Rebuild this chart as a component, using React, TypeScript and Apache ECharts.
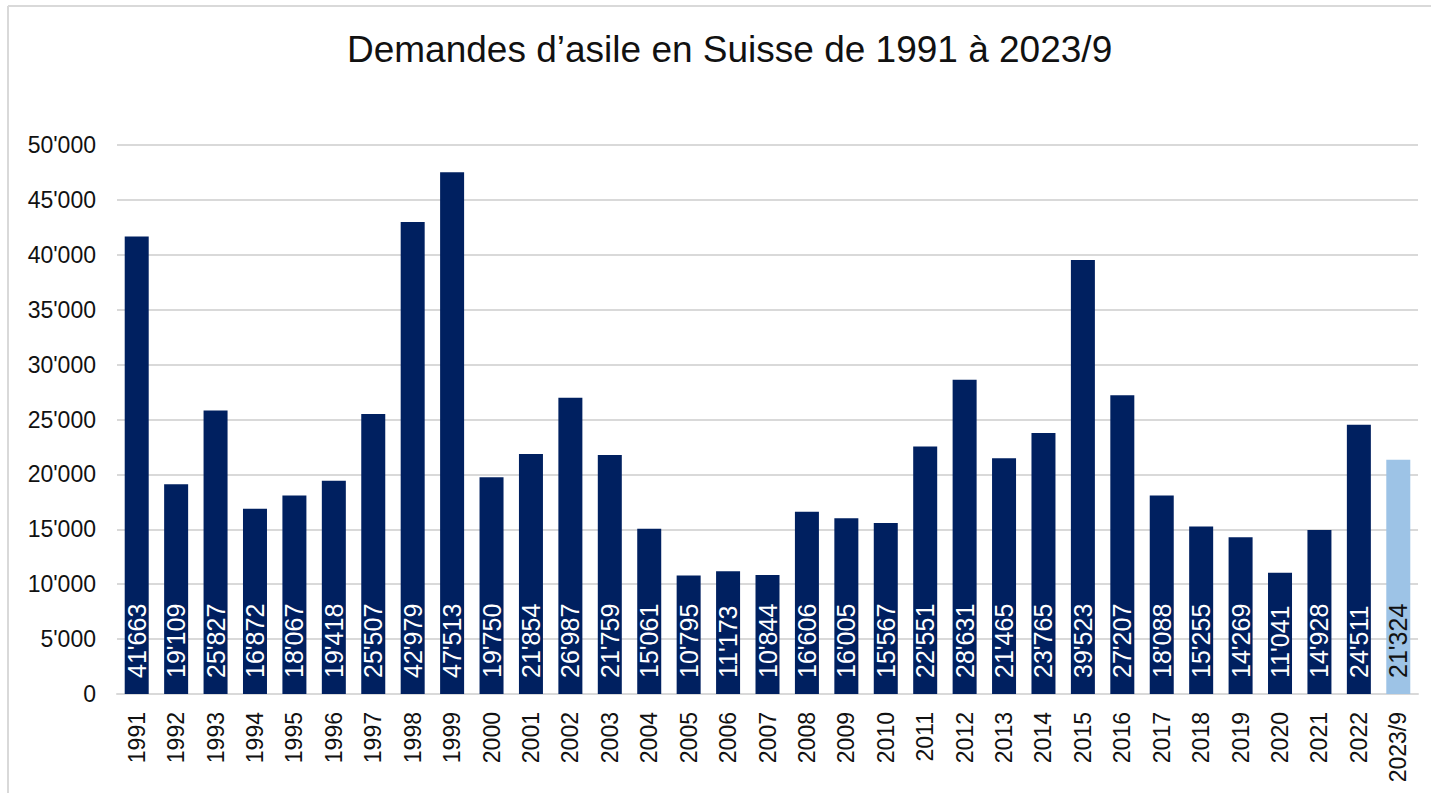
import React, { useEffect, useRef } from "react";
import * as echarts from "echarts";

const categories = ["1991","1992","1993","1994","1995","1996","1997","1998","1999","2000","2001","2002","2003","2004","2005","2006","2007","2008","2009","2010","2011","2012","2013","2014","2015","2016","2017","2018","2019","2020","2021","2022","2023/9"];
const values = [41663,19109,25827,16872,18067,19418,25507,42979,47513,19750,21854,26987,21759,15061,10795,11173,10844,16606,16005,15567,22551,28631,21465,23765,39523,27207,18088,15255,14269,11041,14928,24511,21324];
const yTicks = { min: 0, max: 50000, interval: 5000 };
const titleText = "Demandes d’asile en Suisse de 1991 à 2023/9";

const NAVY = "#002060";
const LIGHT = "#9DC3E6";
const fmt = (v: number) => String(v).replace(/\B(?=(\d{3})+(?!\d))/g, "'");

export default function App() {
  const ref = useRef<HTMLDivElement>(null);
  useEffect(() => {
    if (!ref.current) return;
    const chart = echarts.init(ref.current, undefined, { renderer: "svg" });
    const last = values.length - 1;
    chart.setOption({
      animation: false,
      backgroundColor: "#ffffff",
      textStyle: { fontFamily: "Liberation Sans, Arial, sans-serif" },
      title: {
        text: titleText,
        left: 342,
        top: 26,
        textStyle: { fontSize: 37, fontWeight: "normal", color: "#111", fontFamily: "Liberation Sans, Arial, sans-serif" },
      },
      graphic: [
        { type: "line", shape: { x1: 8, y1: 6, x2: 1431, y2: 6 }, style: { stroke: "#d9d9d9", lineWidth: 2 } },
        { type: "line", shape: { x1: 8, y1: 6, x2: 8, y2: 793 }, style: { stroke: "#d9d9d9", lineWidth: 2 } },
      ],
      grid: { left: 117, right: 13, top: 145, bottom: 99, containLabel: false },
      xAxis: {
        type: "category",
        data: categories,
        axisLine: { show: true, lineStyle: { color: "#d9d9d9", width: 2 } },
        axisTick: { show: false },
        axisLabel: { rotate: 90, interval: 0, margin: 18, fontSize: 23, color: "#111", fontFamily: "Liberation Sans, Arial, sans-serif" },
      },
      yAxis: {
        type: "value",
        min: yTicks.min,
        max: yTicks.max,
        interval: yTicks.interval,
        axisLine: { show: false },
        axisTick: { show: false },
        splitLine: { lineStyle: { color: "#d9d9d9", width: 2 } },
        axisLabel: { formatter: (v: number) => fmt(v), margin: 21, fontSize: 23, color: "#111", fontFamily: "Liberation Sans, Arial, sans-serif" },
      },
      series: [
        {
          type: "bar",
          barWidth: 24,
          data: values.map((v, i) => ({
            value: v,
            itemStyle: { color: i === last ? LIGHT : NAVY },
            label: { color: i === last ? "#111" : "#ffffff" },
          })),
          label: {
            show: true,
            position: "insideBottom",
            rotate: 90,
            align: "left",
            verticalAlign: "middle",
            distance: 16,
            fontSize: 25,
            fontFamily: "Liberation Sans, Arial, sans-serif",
            formatter: (p: any) => fmt(p.value),
          },
        },
      ],
    });
    return () => chart.dispose();
  }, []);
  return <div ref={ref} style={{ position: "fixed", left: 0, top: 0, width: 1431, height: 793 }} />;
}
